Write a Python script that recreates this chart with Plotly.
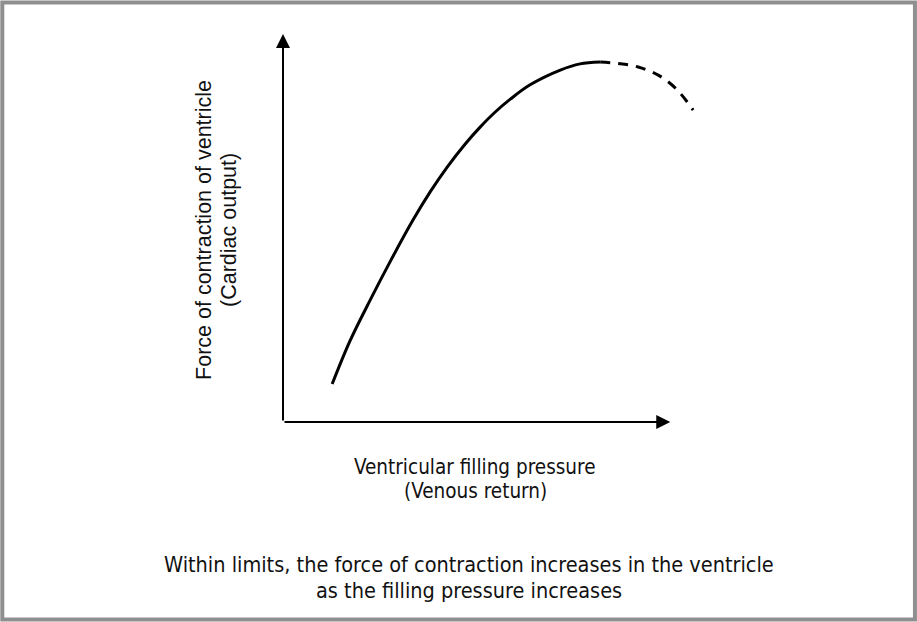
import plotly.graph_objects as go

# Data (abstract units)
solid_x = [1.27, 1.73, 2.25, 2.76, 3.36, 3.80, 4.24, 4.70, 5.09, 5.48, 5.87, 6.38, 7.16, 7.67, 8.19]
solid_y = [0.98, 2.09, 3.14, 4.12, 5.21, 5.93, 6.57, 7.16, 7.60, 7.99, 8.32, 8.69, 9.07, 9.23, 9.28]
dash_x = [8.19, 8.66, 9.17, 9.69, 10.16, 10.59]
dash_y = [9.28, 9.24, 9.15, 8.94, 8.58, 8.04]

y_title_lines = ["Force of contraction of ventricle", "(Cardiac output)"]
x_title_lines = ["Ventricular filling pressure", "(Venous return)"]
caption_lines = ["Within limits, the force of contraction increases in the ventricle",
                 "as the filling pressure increases"]

W, H = 917, 622
L, T = 283, 34
XMAX, YMAX = 11.0, 10.0
PW = 38.7 * XMAX
PH = 388.0
R = W - L - PW
B = H - T - PH

def px(xp):
    return (xp - L) / PW

def py(yp):
    return (T + PH - yp) / PH

fig = go.Figure()
fig.add_trace(go.Scatter(x=solid_x, y=solid_y, mode="lines",
                         line=dict(color="black", width=3, shape="spline", smoothing=1.0),
                         hoverinfo="skip", showlegend=False))
fig.add_trace(go.Scatter(x=dash_x, y=dash_y, mode="lines",
                         line=dict(color="black", width=3, shape="spline", dash="10px,8px"),
                         hoverinfo="skip", showlegend=False))

font_body = "Liberation Sans Narrow, DejaVu Sans Condensed, Arial Narrow, sans-serif"
font_y = "Liberation Sans, Arial, sans-serif"

annotations = [
    dict(x=10.0, y=0, ax=0, ay=0, xref="x", yref="y", axref="x", ayref="y", text="", showarrow=True,
         arrowhead=2, arrowsize=1.4, arrowwidth=2, arrowcolor="black"),
    dict(x=0, y=10.0, ax=0, ay=0, xref="x", yref="y", axref="x", ayref="y", text="", showarrow=True,
         arrowhead=2, arrowsize=1.4, arrowwidth=2, arrowcolor="black"),
]

def txt(t, xc, yc, family, size, angle=0):
    return dict(x=px(xc), y=py(yc), xref="paper", yref="paper", text=t, textangle=angle,
                showarrow=False, xanchor="center", yanchor="middle", borderpad=0,
                font=dict(family=family, size=size, color="#111"))

annotations.append(txt(y_title_lines[0], 204, 230, font_y, 21.5, -90))
annotations.append(txt(y_title_lines[1], 229, 230, font_y, 21.5, -90))
annotations.append(txt(x_title_lines[0], 475, 467, font_body, 20.5))
annotations.append(txt(x_title_lines[1], 475, 491, font_body, 20.5))
annotations.append(txt(caption_lines[0], 469, 564, font_body, 21.5))
annotations.append(txt(caption_lines[1], 469, 590, font_body, 21.5))

fig.update_layout(
    width=W, height=H,
    margin=dict(l=L, r=R, t=T, b=B, pad=0),
    paper_bgcolor="white", plot_bgcolor="white",
    xaxis=dict(range=[0, XMAX], visible=False, fixedrange=True),
    yaxis=dict(range=[0, YMAX], visible=False, fixedrange=True),
    annotations=annotations,
    shapes=[dict(type="rect", xref="paper", yref="paper",
                 x0=px(2.5), x1=px(914.5), y0=py(2.5), y1=py(619.5),
                 line=dict(color="#8f8f8f", width=4), fillcolor="rgba(0,0,0,0)", layer="below")],
)

fig.write_html("out.html", config={"displayModeBar": False},
               post_script="document.body.style.margin='0';document.body.style.overflow='hidden';")
